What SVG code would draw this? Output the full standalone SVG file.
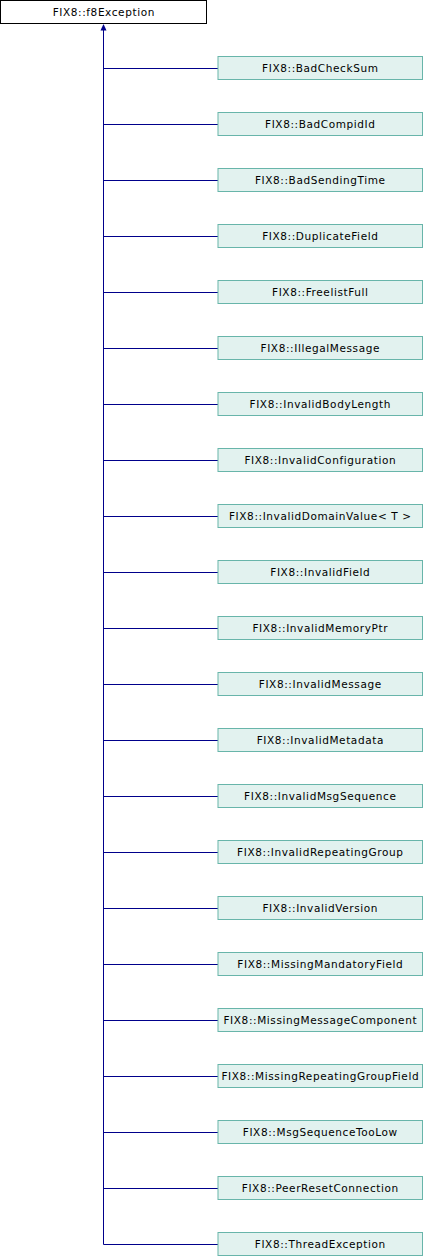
<svg xmlns="http://www.w3.org/2000/svg" width="424" height="1256" viewBox="0 0 424 1256">
<style>
.base{fill:#ffffff;stroke:#000000;stroke-width:1}
.cls{fill:#e2f2ef;stroke:#68b5aa;stroke-width:1}
.t{font-family:"DejaVu Sans",Verdana,sans-serif;font-size:10.5px;letter-spacing:0.6px;fill:#000000;text-anchor:middle}
.c{stroke:#00008b;stroke-width:1;fill:none}
</style>
<rect width="424" height="1256" fill="#ffffff"/>
<g id="connectors">
<polygon points="103.5,24 100.5,30.5 106.5,30.5" fill="#00008b"/>
<path class="c" d="M103.5,30 V1244.5"/>
<path class="c" d="M103.5,68.5 H218 M103.5,124.5 H218 M103.5,180.5 H218 M103.5,236.5 H218 M103.5,292.5 H218 M103.5,348.5 H218 M103.5,404.5 H218 M103.5,460.5 H218 M103.5,516.5 H218 M103.5,572.5 H218 M103.5,628.5 H218 M103.5,684.5 H218 M103.5,740.5 H218 M103.5,796.5 H218 M103.5,852.5 H218 M103.5,908.5 H218 M103.5,964.5 H218 M103.5,1020.5 H218 M103.5,1076.5 H218 M103.5,1132.5 H218 M103.5,1188.5 H218 M103.5,1244.5 H218"/>
</g>
<g id="f8Exception"><rect class="base" x="0.5" y="0.5" width="206" height="23"/><text class="t" x="103.8" y="15.5">FIX8::f8Exception</text></g>
<g id="BadCheckSum"><rect class="cls" x="218" y="56.5" width="204.5" height="23"/><text class="t" x="320.3" y="71.5">FIX8::BadCheckSum</text></g>
<g id="BadCompidId"><rect class="cls" x="218" y="112.5" width="204.5" height="23"/><text class="t" x="320.3" y="127.5">FIX8::BadCompidId</text></g>
<g id="BadSendingTime"><rect class="cls" x="218" y="168.5" width="204.5" height="23"/><text class="t" x="320.3" y="183.5">FIX8::BadSendingTime</text></g>
<g id="DuplicateField"><rect class="cls" x="218" y="224.5" width="204.5" height="23"/><text class="t" x="320.3" y="239.5">FIX8::DuplicateField</text></g>
<g id="FreelistFull"><rect class="cls" x="218" y="280.5" width="204.5" height="23"/><text class="t" x="320.3" y="295.5">FIX8::FreelistFull</text></g>
<g id="IllegalMessage"><rect class="cls" x="218" y="336.5" width="204.5" height="23"/><text class="t" x="320.3" y="351.5">FIX8::IllegalMessage</text></g>
<g id="InvalidBodyLength"><rect class="cls" x="218" y="392.5" width="204.5" height="23"/><text class="t" x="320.3" y="407.5">FIX8::InvalidBodyLength</text></g>
<g id="InvalidConfiguration"><rect class="cls" x="218" y="448.5" width="204.5" height="23"/><text class="t" x="320.3" y="463.5">FIX8::InvalidConfiguration</text></g>
<g id="InvalidDomainValue"><rect class="cls" x="218" y="504.5" width="204.5" height="23"/><text class="t" x="320.3" y="519.5">FIX8::InvalidDomainValue&lt; T &gt;</text></g>
<g id="InvalidField"><rect class="cls" x="218" y="560.5" width="204.5" height="23"/><text class="t" x="320.3" y="575.5">FIX8::InvalidField</text></g>
<g id="InvalidMemoryPtr"><rect class="cls" x="218" y="616.5" width="204.5" height="23"/><text class="t" x="320.3" y="631.5">FIX8::InvalidMemoryPtr</text></g>
<g id="InvalidMessage"><rect class="cls" x="218" y="672.5" width="204.5" height="23"/><text class="t" x="320.3" y="687.5">FIX8::InvalidMessage</text></g>
<g id="InvalidMetadata"><rect class="cls" x="218" y="728.5" width="204.5" height="23"/><text class="t" x="320.3" y="743.5">FIX8::InvalidMetadata</text></g>
<g id="InvalidMsgSequence"><rect class="cls" x="218" y="784.5" width="204.5" height="23"/><text class="t" x="320.3" y="799.5">FIX8::InvalidMsgSequence</text></g>
<g id="InvalidRepeatingGroup"><rect class="cls" x="218" y="840.5" width="204.5" height="23"/><text class="t" x="320.3" y="855.5">FIX8::InvalidRepeatingGroup</text></g>
<g id="InvalidVersion"><rect class="cls" x="218" y="896.5" width="204.5" height="23"/><text class="t" x="320.3" y="911.5">FIX8::InvalidVersion</text></g>
<g id="MissingMandatoryField"><rect class="cls" x="218" y="952.5" width="204.5" height="23"/><text class="t" x="320.3" y="967.5">FIX8::MissingMandatoryField</text></g>
<g id="MissingMessageComponent"><rect class="cls" x="218" y="1008.5" width="204.5" height="23"/><text class="t" x="320.3" y="1023.5">FIX8::MissingMessageComponent</text></g>
<g id="MissingRepeatingGroupField"><rect class="cls" x="218" y="1064.5" width="204.5" height="23"/><text class="t" x="320.3" y="1079.5">FIX8::MissingRepeatingGroupField</text></g>
<g id="MsgSequenceTooLow"><rect class="cls" x="218" y="1120.5" width="204.5" height="23"/><text class="t" x="320.3" y="1135.5">FIX8::MsgSequenceTooLow</text></g>
<g id="PeerResetConnection"><rect class="cls" x="218" y="1176.5" width="204.5" height="23"/><text class="t" x="320.3" y="1191.5">FIX8::PeerResetConnection</text></g>
<g id="ThreadException"><rect class="cls" x="218" y="1232.5" width="204.5" height="23"/><text class="t" x="320.3" y="1247.5">FIX8::ThreadException</text></g>
</svg>
